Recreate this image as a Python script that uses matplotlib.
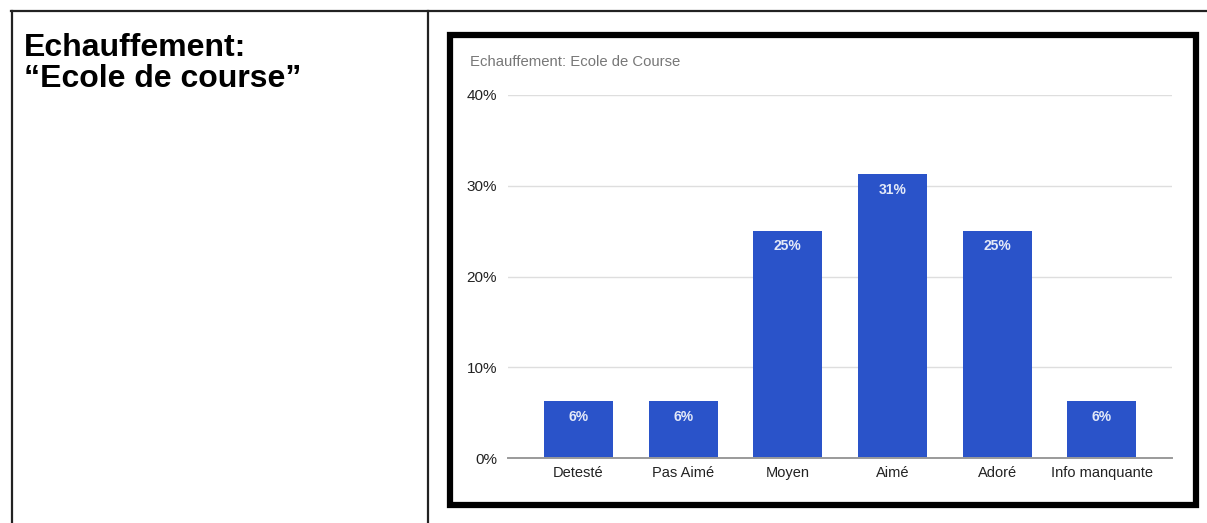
import numpy as np
import matplotlib
matplotlib.use('Agg')
import matplotlib.pyplot as plt
from matplotlib.patches import Rectangle
from matplotlib.lines import Line2D

categories = ['Detesté', 'Pas Aimé', 'Moyen', 'Aimé', 'Adoré', 'Info manquante']
values = [6.25, 6.25, 25.0, 31.25, 25.0, 6.25]
bar_labels = ['6%', '6%', '25%', '31%', '25%', '6%']
yticks = [0, 10, 20, 30, 40]

W, H = 1207, 523
plt.rcParams['font.family'] = ['Liberation Sans', 'DejaVu Sans']

fig = plt.figure(figsize=(W / 100, H / 100), dpi=100)
fig.patch.set_facecolor('white')

def fx(px):
    return px / W

def fy(py):
    return 1 - py / H

# table lines around the slide cells
fig.add_artist(Line2D([fx(11), 1], [fy(11), fy(11)], color='#222222', lw=1.6))
fig.add_artist(Line2D([fx(11.5), fx(11.5)], [0, fy(11)], color='#222222', lw=1.6))
fig.add_artist(Line2D([fx(428), fx(428)], [0, fy(11)], color='#222222', lw=1.6))

fig.text(fx(24), fy(56), 'Echauffement:', fontsize=23,
         fontweight='bold', va='baseline', ha='left', color='black')
fig.text(fx(24), fy(87), '\u201cEcole de course\u201d', fontsize=23,
         fontweight='bold', va='baseline', ha='left', color='black')

# thick frame around the chart image
fig.add_artist(Rectangle((fx(450), fy(505)), fx(1196) - fx(450), fy(35) - fy(505),
                         fill=False, ec='black', lw=4.5))

ax_l, ax_r, ax_b, ax_t = 508, 1172, 458, 95
ax = fig.add_axes([fx(ax_l), fy(ax_b), fx(ax_r) - fx(ax_l), fy(ax_t) - fy(ax_b)])

x = np.arange(len(categories))
bars = ax.bar(x, values, width=0.66, color='#2a53c9', zorder=3)
for xi, v, lab in zip(x, values, bar_labels):
    ax.annotate(lab, (xi, v), xytext=(0, -11), textcoords='offset points',
                ha='center', va='center', color='#e3e9f8', fontsize=10, fontweight='bold')

ax.set_xlim(-0.673, 5.67)
ax.set_ylim(0, 40)
ax.set_yticks(yticks)
ax.set_yticklabels([f'{t}%' for t in yticks])
ax.set_xticks(x)
ax.set_xticklabels(categories)
ax.tick_params(axis='y', length=0, pad=8, labelsize=11, labelcolor='#222222')
ax.tick_params(axis='x', length=0, pad=6, labelsize=10.5, labelcolor='#222222')
for s in ['top', 'right', 'left']:
    ax.spines[s].set_visible(False)
ax.spines['bottom'].set_color('#9a9a9a')
ax.spines['bottom'].set_linewidth(1.4)
ax.spines['bottom'].set_zorder(4)
ax.grid(axis='y', color='#dedede', lw=1, zorder=0)
ax.set_axisbelow(True)

fig.text(fx(470), fy(62), 'Echauffement: Ecole de Course', fontsize=10.7,
         color='#777777', va='center', ha='left')

fig.savefig('out.png', dpi=100)
